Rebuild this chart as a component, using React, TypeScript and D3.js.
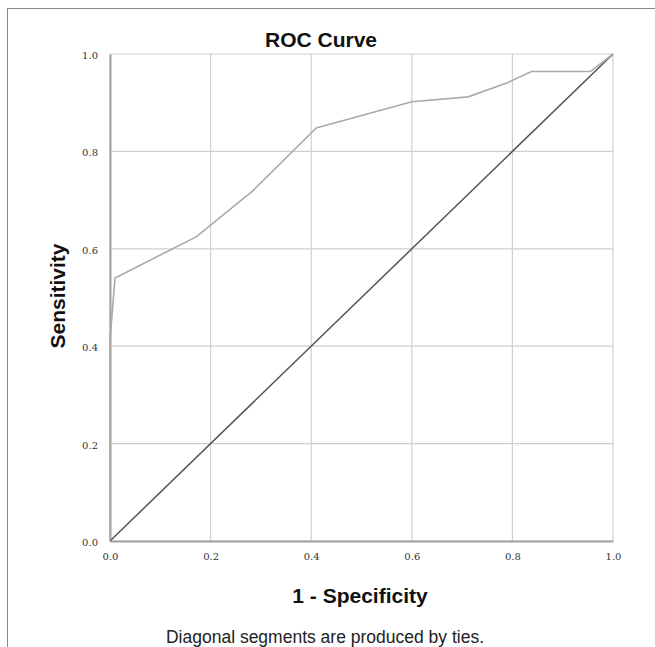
import React, { useEffect, useRef } from 'react';
import * as d3 from 'd3';

// ROC curve points (1 - specificity, sensitivity)
const fpr = [0, 0, 0.01, 0.172, 0.285, 0.41, 0.6, 0.712, 0.79, 0.838, 0.955, 1.0];
const tpr = [0, 0.413, 0.54, 0.625, 0.72, 0.848, 0.902, 0.912, 0.941, 0.964, 0.964, 1.0];
const refLine = [0, 1];
const ticks = [0, 0.2, 0.4, 0.6, 0.8, 1.0];

const title = 'ROC Curve';
const xTitle = '1 - Specificity';
const yTitle = 'Sensitivity';
const footnote = 'Diagonal segments are produced by ties.';

const App = () => {
  const svgRef = useRef<SVGSVGElement>(null);

  useEffect(() => {
    const width = 655,
      height = 647;
    const margin = { top: 54, right: 42, bottom: 106, left: 110 };
    const w = 613 - margin.left,
      h = 541 - margin.top;

    const svg = d3.select(svgRef.current).attr('width', width).attr('height', height);
    svg.selectAll('*').remove();

    // outer frame (runs off the right and bottom edges)
    svg
      .append('rect')
      .attr('x', 7.5)
      .attr('y', 8.5)
      .attr('width', 700)
      .attr('height', 700)
      .attr('fill', '#fff')
      .attr('stroke', '#888')
      .attr('stroke-width', 1);

    const g = svg.append('g').attr('transform', `translate(${margin.left},${margin.top})`);

    const x = d3.scaleLinear().domain([0, 1]).range([0, w]);
    const y = d3.scaleLinear().domain([0, 1]).range([h, 0]);

    // grid
    g.append('g')
      .selectAll('line')
      .data(ticks)
      .join('line')
      .attr('x1', (d) => x(d))
      .attr('x2', (d) => x(d))
      .attr('y1', 0)
      .attr('y2', h)
      .attr('stroke', '#cfcfcf')
      .attr('stroke-width', 1.2);
    g.append('g')
      .selectAll('line')
      .data(ticks)
      .join('line')
      .attr('x1', 0)
      .attr('x2', w)
      .attr('y1', (d) => y(d))
      .attr('y2', (d) => y(d))
      .attr('stroke', '#cfcfcf')
      .attr('stroke-width', 1.2);

    // axes
    const fmt = d3.format('.1f');
    const xAxis = g
      .append('g')
      .attr('transform', `translate(0,${h})`)
      .call(d3.axisBottom(x).tickValues(ticks).tickFormat(fmt).tickSize(0).tickPadding(12));
    const yAxis = g
      .append('g')
      .call(d3.axisLeft(y).tickValues(ticks).tickFormat(fmt).tickSize(0).tickPadding(12));
    [xAxis, yAxis].forEach((a) => {
      a.select('.domain').attr('stroke', '#a0a0a0').attr('stroke-width', 2);
      a.selectAll('text')
        .attr('font-family', 'DejaVu Serif, serif')
        .attr('font-size', 10)
        .attr('fill', '#333');
    });
    yAxis.selectAll('text').attr('dy', '0.45em');

    // reference diagonal
    const line = d3
      .line<number>()
      .x((d) => x(d))
      .y((d) => y(d));
    g.append('path')
      .datum(refLine)
      .attr('d', line)
      .attr('fill', 'none')
      .attr('stroke', '#555')
      .attr('stroke-width', 1.5);

    // ROC curve
    const curve = d3
      .line<number>()
      .x((d) => x(fpr[d]))
      .y((d) => y(tpr[d]));
    g.append('path')
      .datum(d3.range(fpr.length))
      .attr('d', curve)
      .attr('fill', 'none')
      .attr('stroke', '#aaaaaa')
      .attr('stroke-width', 1.6);

    const font = 'Liberation Sans, Arial, sans-serif';
    svg
      .append('text')
      .attr('x', 321)
      .attr('y', 47)
      .attr('text-anchor', 'middle')
      .attr('font-family', font)
      .attr('font-weight', 'bold')
      .attr('font-size', 21)
      .attr('fill', '#111')
      .text(title);

    svg
      .append('text')
      .attr('x', 360)
      .attr('y', 603)
      .attr('text-anchor', 'middle')
      .attr('font-family', font)
      .attr('font-weight', 'bold')
      .attr('font-size', 21)
      .attr('fill', '#111')
      .text(xTitle);

    svg
      .append('text')
      .attr('transform', 'translate(65,296) rotate(-90)')
      .attr('text-anchor', 'middle')
      .attr('font-family', font)
      .attr('font-weight', 'bold')
      .attr('font-size', 21)
      .attr('fill', '#111')
      .text(yTitle);

    svg
      .append('text')
      .attr('x', 325)
      .attr('y', 643)
      .attr('text-anchor', 'middle')
      .attr('font-family', font)
      .attr('font-size', 17.5)
      .attr('fill', '#222')
      .text(footnote);
  }, []);

  return <svg ref={svgRef} style={{ position: 'absolute', left: 0, top: 0 }}></svg>;
};

export default App;
